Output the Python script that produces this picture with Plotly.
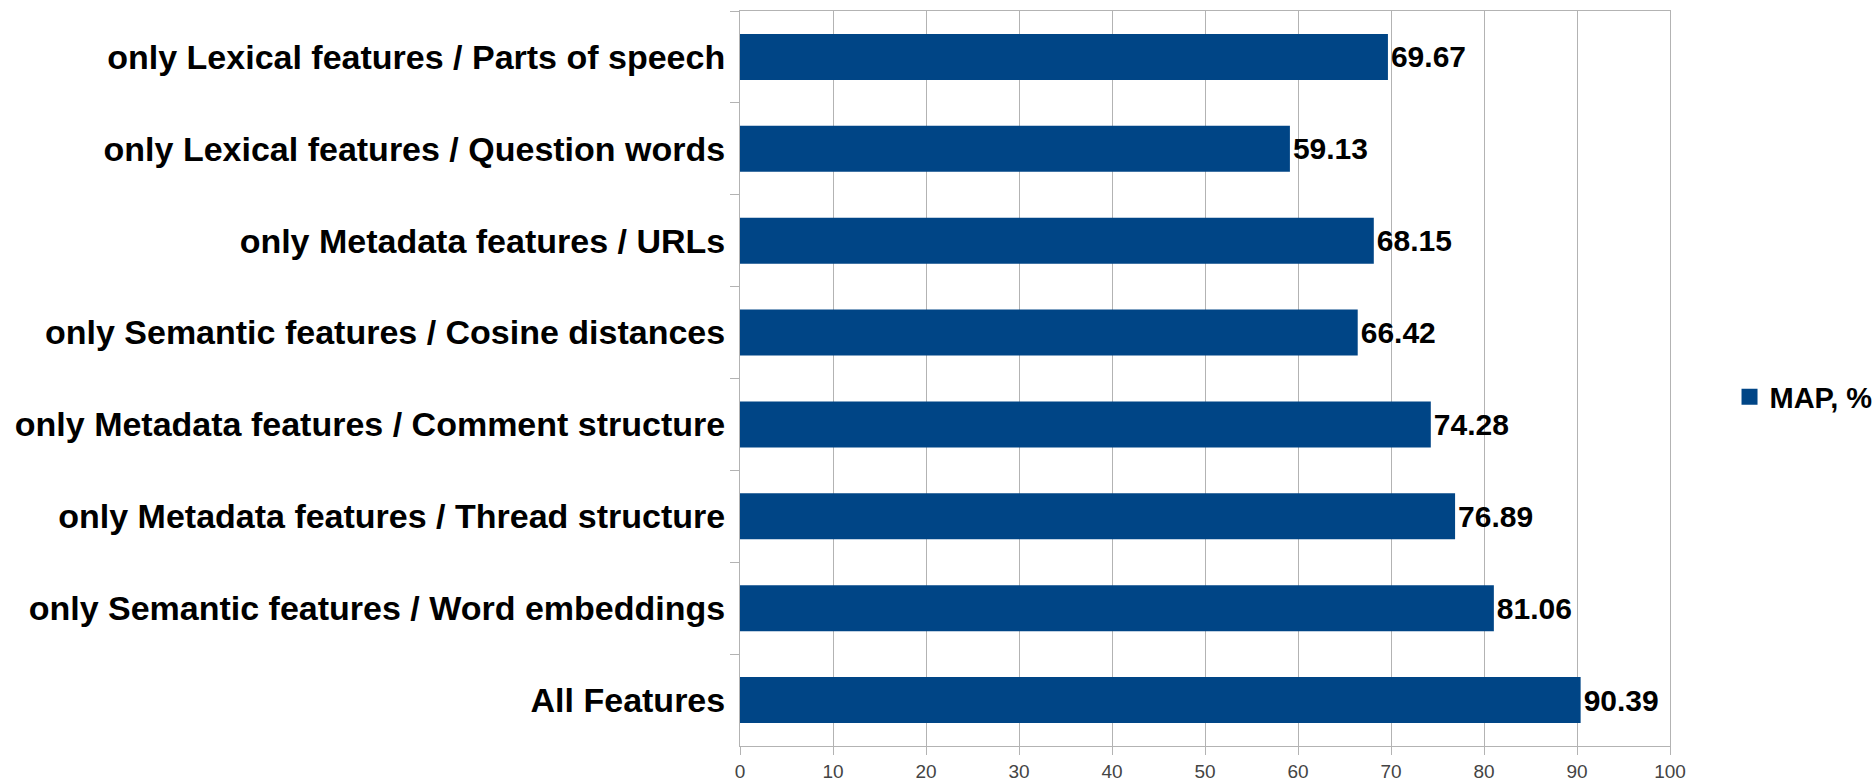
import plotly.graph_objects as go

categories = [
    "only Lexical features / Parts of speech",
    "only Lexical features / Question words",
    "only Metadata features / URLs",
    "only Semantic features / Cosine distances",
    "only Metadata features / Comment structure",
    "only Metadata features / Thread structure",
    "only Semantic features / Word embeddings",
    "All Features",
]
map_values = [69.67, 59.13, 68.15, 66.42, 74.28, 76.89, 81.06, 90.39]
series_name = "MAP, %"
x_ticks = [0, 10, 20, 30, 40, 50, 60, 70, 80, 90, 100]

BLUE = "#004586"
GRID = "#b3b3b3"

fig = go.Figure()
fig.add_trace(go.Bar(
    y=categories, x=map_values, orientation="h", name=series_name,
    marker=dict(color=BLUE, line=dict(width=0)),
    width=0.5,
    text=[f"{v:.2f}" for v in map_values],
    textposition="outside",
    textfont=dict(family="Liberation Sans", size=30, color="#000000", weight="bold"),
    cliponaxis=False,
    showlegend=False,
))
# legend entry (square marker like the original legend key)
fig.add_trace(go.Scatter(
    x=[None], y=[None], mode="markers", name=series_name,
    marker=dict(symbol="square", size=16, color=BLUE),
    showlegend=True,
))

fig.update_layout(
    width=1876, height=782,
    margin=dict(l=740, r=206, t=11, b=36, autoexpand=False),
    plot_bgcolor="white", paper_bgcolor="white",
    font=dict(family="Liberation Sans", color="#000000"),
    showlegend=True,
    legend=dict(
        x=1.064, y=0.475, xanchor="left", yanchor="middle",
        font=dict(family="Liberation Sans", size=29, color="#000000", weight="bold"),
        itemwidth=30, bgcolor="rgba(0,0,0,0)",
    ),
    xaxis=dict(
        range=[0, 100], tickvals=x_ticks, ticktext=[str(t) for t in x_ticks],
        showgrid=True, gridcolor=GRID, gridwidth=1,
        showline=True, linecolor=GRID, linewidth=1, mirror=True,
        ticks="outside", ticklen=8, tickcolor=GRID,
        tickfont=dict(family="Liberation Sans", size=19, color="#444444"),
        zeroline=False, automargin=False,
    ),
    yaxis=dict(
        autorange="reversed", type="category",
        showline=True, linecolor=GRID, linewidth=1, mirror=True,
        ticks="outside", ticklen=9, tickcolor=GRID, tickson="boundaries",
        ticklabelstandoff=7,
        tickfont=dict(family="Liberation Sans", size=34, color="#000000", weight="bold"),
        showgrid=False, automargin=False,
    ),
    bargap=0.5,
)

fig.write_html(
    "out.html",
    config={"displayModeBar": False},
    post_script="document.body.style.margin='0';document.body.style.overflow='hidden';",
)
